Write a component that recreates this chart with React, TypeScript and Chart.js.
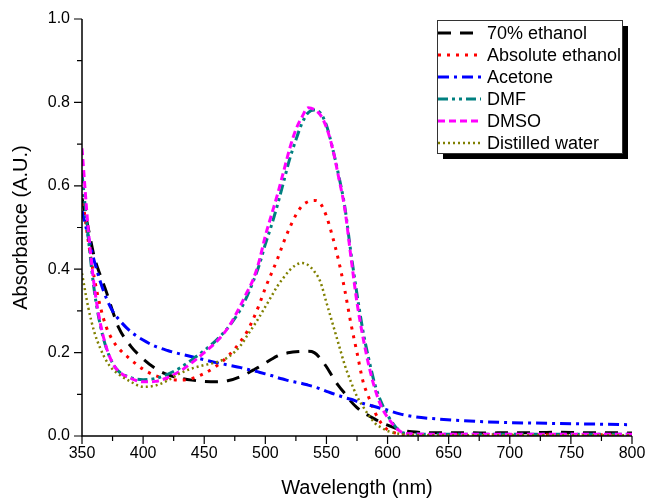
import React, { useEffect, useRef } from "react";
import { Chart, registerables } from "chart.js";

Chart.register(...registerables);

// ---------- data ----------
const WAVELENGTHS = [350, 355, 360, 365, 370, 375, 380, 390, 400, 410, 420, 430, 440, 450, 460, 470,
  480, 485, 490, 495, 500, 505, 510, 515, 520, 525, 530, 535, 540, 545, 550, 555, 560, 565, 570, 575, 580, 585, 590, 595, 600,
  610, 620, 640, 660, 680, 700, 720, 740, 760, 780, 800];

const ETHANOL_70 = [0.57, 0.5, 0.43, 0.385, 0.345, 0.3, 0.26, 0.215, 0.185, 0.162, 0.147, 0.139, 0.134, 0.131, 0.13, 0.133,
  0.143, 0.15, 0.158, 0.166, 0.175, 0.184, 0.192, 0.197, 0.2, 0.202, 0.203, 0.203, 0.2, 0.186, 0.166, 0.142, 0.12, 0.102, 0.083, 0.068, 0.056, 0.048, 0.04, 0.032, 0.026,
  0.015, 0.01, 0.008, 0.008, 0.007, 0.008, 0.008, 0.009, 0.008, 0.008, 0.007];
const ABS_ETHANOL = [0.58, 0.47, 0.38, 0.31, 0.26, 0.23, 0.21, 0.183, 0.16, 0.145, 0.137, 0.134, 0.138, 0.15, 0.168, 0.193,
  0.228, 0.25, 0.28, 0.315, 0.355, 0.39, 0.425, 0.465, 0.5, 0.53, 0.552, 0.562, 0.565, 0.558, 0.527, 0.478, 0.42, 0.35, 0.27, 0.2, 0.13, 0.09, 0.055, 0.03, 0.015,
  0.005, 0.003, 0.003, 0.003, 0.003, 0.003, 0.003, 0.003, 0.003, 0.003, 0.003];
const ACETONE = [0.54, 0.48, 0.42, 0.37, 0.33, 0.3, 0.28, 0.25, 0.23, 0.215, 0.205, 0.197, 0.19, 0.183, 0.176, 0.17,
  0.164, 0.16, 0.157, 0.153, 0.149, 0.145, 0.14, 0.136, 0.132, 0.129, 0.126, 0.122, 0.118, 0.113, 0.107, 0.102, 0.097, 0.092, 0.088, 0.083, 0.078, 0.074, 0.07, 0.066, 0.062,
  0.053, 0.047, 0.041, 0.037, 0.034, 0.032, 0.031, 0.03, 0.029, 0.028, 0.027];
const DMF = [0.63, 0.48, 0.35, 0.265, 0.21, 0.175, 0.155, 0.14, 0.135, 0.138, 0.148, 0.163, 0.183, 0.205, 0.23, 0.262,
  0.305, 0.335, 0.37, 0.41, 0.46, 0.505, 0.555, 0.61, 0.665, 0.71, 0.75, 0.775, 0.782, 0.775, 0.745, 0.69, 0.625, 0.55, 0.44, 0.34, 0.25, 0.18, 0.12, 0.08, 0.05,
  0.012, 0.005, 0.004, 0.004, 0.004, 0.004, 0.004, 0.004, 0.004, 0.004, 0.004];
const DMSO = [0.69, 0.5, 0.36, 0.27, 0.212, 0.175, 0.155, 0.138, 0.13, 0.131, 0.14, 0.155, 0.176, 0.2, 0.226, 0.262,
  0.315, 0.345, 0.375, 0.42, 0.48, 0.53, 0.58, 0.635, 0.69, 0.735, 0.765, 0.787, 0.783, 0.77, 0.74, 0.69, 0.62, 0.545, 0.43, 0.32, 0.235, 0.165, 0.11, 0.07, 0.045,
  0.012, 0.005, 0.004, 0.004, 0.004, 0.004, 0.004, 0.004, 0.004, 0.004, 0.004];
const WATER = [0.39, 0.31, 0.25, 0.21, 0.18, 0.16, 0.148, 0.13, 0.118, 0.121, 0.133, 0.15, 0.162, 0.17, 0.177, 0.19,
  0.218, 0.24, 0.262, 0.285, 0.31, 0.335, 0.36, 0.38, 0.398, 0.41, 0.415, 0.41, 0.395, 0.37, 0.32, 0.27, 0.22, 0.17, 0.13, 0.095, 0.07, 0.048, 0.03, 0.02, 0.012,
  0.005, 0.002, 0.002, 0.002, 0.002, 0.002, 0.002, 0.002, 0.002, 0.002, 0.002];

const SERIES_LABELS = ["70% ethanol", "Absolute ethanol", "Acetone", "DMF", "DMSO", "Distilled water"];

const X_MAJOR_TICKS = [350, 400, 450, 500, 550, 600, 650, 700, 750, 800];
const X_MINOR_TICKS = [375, 425, 475, 525, 575, 625, 675, 725, 775];
const Y_MAJOR_TICKS = [0, 0.2, 0.4, 0.6, 0.8, 1.0];
const Y_MINOR_TICKS = [0.1, 0.3, 0.5, 0.7, 0.9];
const Y_TICK_LABELS = ["0.0", "0.2", "0.4", "0.6", "0.8", "1.0"];

const FONT = "'Liberation Sans', Arial, Helvetica, sans-serif";

const STYLES = [
  { color: "#000000", dash: [13, 9], width: 3 },
  { color: "#ff0000", dash: [3, 6], width: 3 },
  { color: "#0000ff", dash: [11, 5, 3, 5], width: 3 },
  { color: "#008080", dash: [10, 4, 3, 4, 3, 4], width: 3 },
  { color: "#ff00ff", dash: [7, 4], width: 3 },
  { color: "#808000", dash: [2, 3], width: 2.5 },
];

const toPoints = (ys: number[]) => WAVELENGTHS.map((x, i) => ({ x, y: ys[i] }));

const axesPlugin = {
  id: "originAxes",
  afterDatasetsDraw(chart: any) {
    const { ctx, chartArea } = chart;
    const xs = chart.scales.x;
    const ys = chart.scales.y;
    ctx.save();
    ctx.strokeStyle = "#000";
    ctx.lineWidth = 1.5;
    ctx.setLineDash([]);
    ctx.beginPath();
    ctx.moveTo(chartArea.left, chartArea.top);
    ctx.lineTo(chartArea.left, chartArea.bottom);
    ctx.lineTo(chartArea.right, chartArea.bottom);
    ctx.stroke();
    ctx.lineWidth = 1.2;
    ctx.beginPath();
    X_MAJOR_TICKS.forEach((v) => {
      const px = xs.getPixelForValue(v);
      ctx.moveTo(px, chartArea.bottom);
      ctx.lineTo(px, chartArea.bottom + 8);
    });
    X_MINOR_TICKS.forEach((v) => {
      const px = xs.getPixelForValue(v);
      ctx.moveTo(px, chartArea.bottom);
      ctx.lineTo(px, chartArea.bottom + 5);
    });
    Y_MAJOR_TICKS.forEach((v) => {
      const py = ys.getPixelForValue(v);
      ctx.moveTo(chartArea.left, py);
      ctx.lineTo(chartArea.left - 8, py);
    });
    Y_MINOR_TICKS.forEach((v) => {
      const py = ys.getPixelForValue(v);
      ctx.moveTo(chartArea.left, py);
      ctx.lineTo(chartArea.left - 5, py);
    });
    ctx.stroke();
    ctx.restore();
  },
};

const legendPlugin = {
  id: "boxLegend",
  afterDraw(chart: any) {
    const { ctx, chartArea } = chart;
    const w = 185;
    const h = 133;
    const x0 = chartArea.right - 195;
    const y0 = chartArea.top + 1;
    ctx.save();
    ctx.fillStyle = "#000";
    ctx.fillRect(x0 + 6, y0 + 6, w, h);
    ctx.fillStyle = "#fff";
    ctx.fillRect(x0, y0, w, h);
    ctx.strokeStyle = "#333";
    ctx.lineWidth = 1;
    ctx.strokeRect(x0 + 0.5, y0 + 0.5, w, h);
    ctx.font = `18px ${FONT}`;
    ctx.textBaseline = "middle";
    ctx.textAlign = "left";
    chart.data.datasets.forEach((ds: any, i: number) => {
      const y = y0 + 13 + i * 22;
      ctx.strokeStyle = ds.borderColor;
      ctx.lineWidth = ds.borderWidth;
      ctx.setLineDash(ds.borderDash || []);
      ctx.beginPath();
      ctx.moveTo(x0 + 1, y);
      ctx.lineTo(x0 + 44, y);
      ctx.stroke();
      ctx.setLineDash([]);
      ctx.fillStyle = "#000";
      ctx.fillText(ds.label, x0 + 50, y + 1);
    });
    ctx.restore();
  },
};

export default function App() {
  const canvasRef = useRef<HTMLCanvasElement | null>(null);

  useEffect(() => {
    document.body.style.margin = "0";
    const canvas = canvasRef.current;
    if (!canvas) return;
    Chart.defaults.font.family = FONT;
    const seriesValues = [ETHANOL_70, ABS_ETHANOL, ACETONE, DMF, DMSO, WATER];
    const chart = new Chart(canvas, {
      type: "line",
      data: {
        datasets: seriesValues.map((vals, i) => ({
          label: SERIES_LABELS[i],
          data: toPoints(vals),
          borderColor: STYLES[i].color,
          backgroundColor: STYLES[i].color,
          borderDash: STYLES[i].dash,
          borderWidth: STYLES[i].width,
          pointRadius: 0,
          fill: false,
          cubicInterpolationMode: "monotone" as const,
          order: 6 - i,
        })),
      },
      options: {
        animation: false,
        responsive: true,
        maintainAspectRatio: false,
        layout: { padding: { left: 0, top: 19, right: 14, bottom: 0 } },
        plugins: {
          legend: { display: false },
          tooltip: { enabled: false },
        },
        scales: {
          x: {
            type: "linear",
            min: 350,
            max: 800,
            grid: { display: false, drawTicks: true, tickLength: 8 },
            border: { display: false },
            ticks: {
              stepSize: 50,
              color: "#000",
              font: { size: 16 },
              padding: 0,
              maxRotation: 0,
              autoSkip: false,
            },
            title: {
              display: true,
              text: "Wavelength (nm)",
              color: "#000",
              font: { size: 20, lineHeight: 1 },
              padding: { top: 0, bottom: 0 },
            },
            afterFit: (s: any) => {
              s.height = 62;
            },
          },
          y: {
            type: "linear",
            min: 0,
            max: 1,
            grid: { display: false, drawTicks: true, tickLength: 8 },
            border: { display: false },
            ticks: {
              stepSize: 0.2,
              color: "#000",
              font: { size: 16 },
              padding: 4,
              callback: (v: any) => {
                const idx = Y_MAJOR_TICKS.findIndex((t) => Math.abs(t - Number(v)) < 1e-6);
                return idx >= 0 ? Y_TICK_LABELS[idx] : "";
              },
            },
            title: {
              display: true,
              text: "Absorbance (A.U.)",
              color: "#000",
              font: { size: 20, lineHeight: 1 },
              padding: { top: 11, bottom: 0 },
            },
            afterFit: (s: any) => {
              s.width = 82;
            },
          },
        },
      },
      plugins: [axesPlugin, legendPlugin],
    });
    return () => chart.destroy();
  }, []);

  return (
    <div style={{ width: 646, height: 498, position: "relative" }}>
      <canvas ref={canvasRef} />
    </div>
  );
}
